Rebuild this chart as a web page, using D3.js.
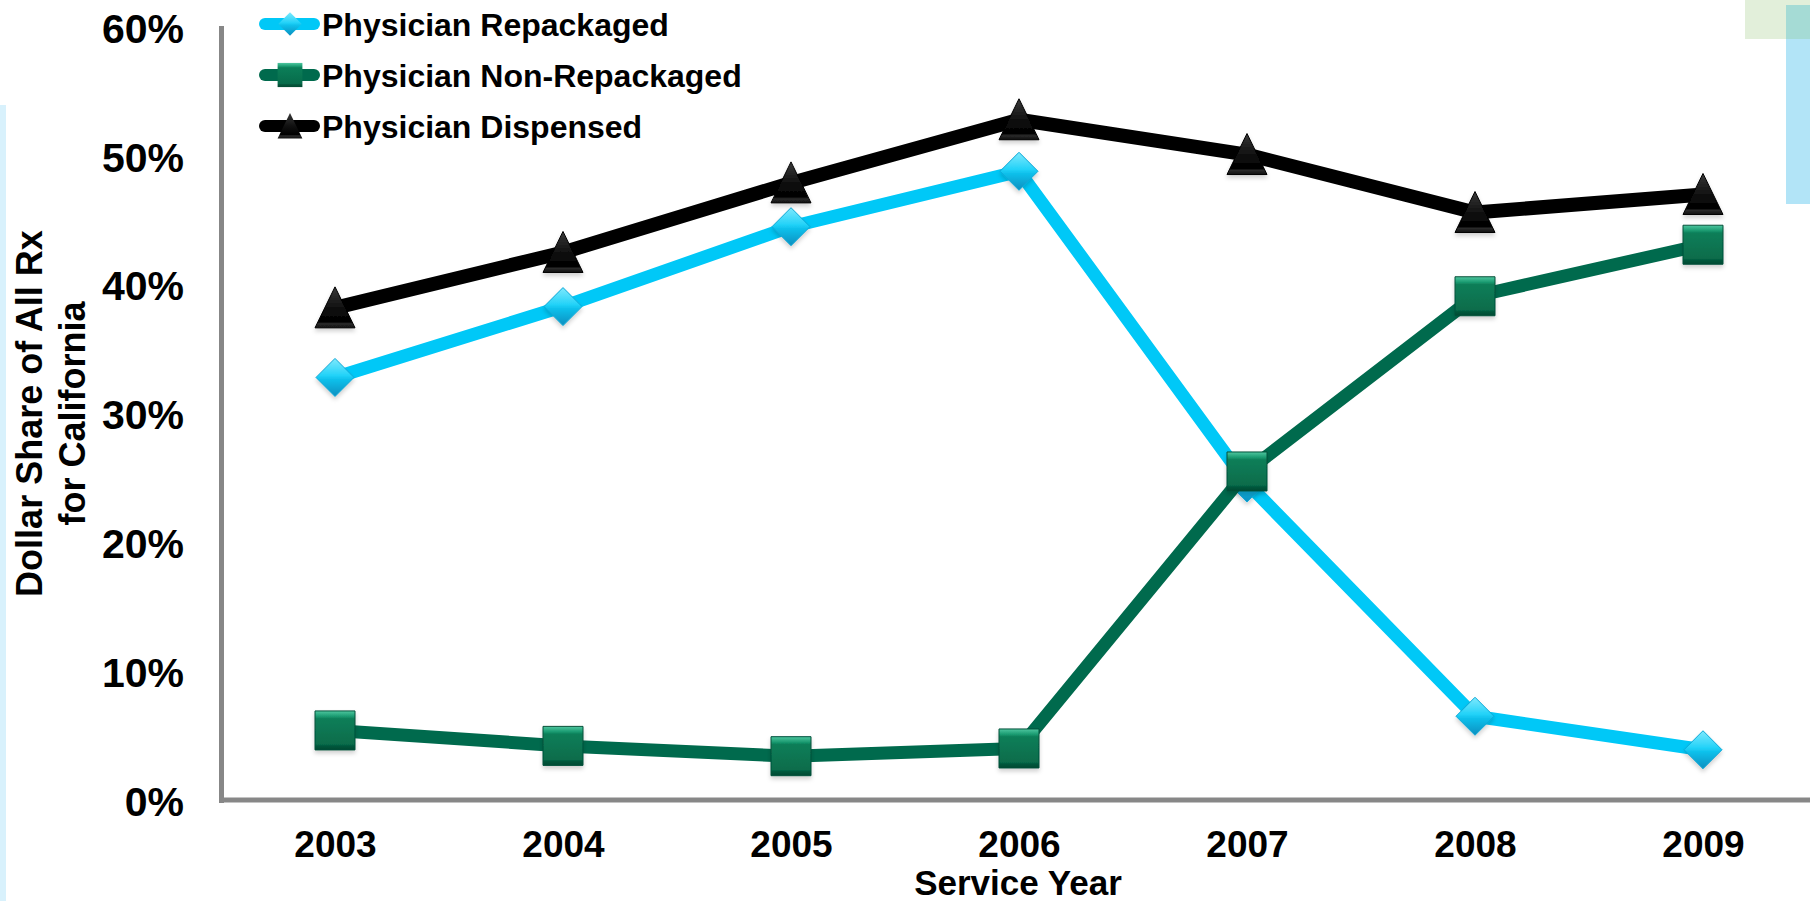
<!DOCTYPE html>
<html lang="en">
	<head>
		<meta charset="utf-8">
		<title>Dollar Share of All Rx for California</title>
		<script type="text/javascript" src="https://cdn.jsdelivr.net/npm/d3@7"></script>
		<style type="text/css">
			body {
				margin: 0px;
				background: #ffffff;
			}
			text {
				font-family: "Liberation Sans", Arial, Helvetica, sans-serif;
				font-weight: bold;
				fill: #000000;
			}
		</style>
	</head>
	<body>
		<div id="chart"></div>
		<script type="text/javascript">
		//Data
			var years = ["2003", "2004", "2005", "2006", "2007", "2008", "2009"];
			var repackaged = [32.8, 38.3, 44.5, 48.8, 24.6, 6.5, 3.9];
			var nonRepackaged = [5.4, 4.2, 3.4, 4.0, 25.5, 39.1, 43.1];
			var dispensed = [38.2, 42.5, 47.9, 52.8, 50.1, 45.6, 47.0];
			var yTicks = [0, 10, 20, 30, 40, 50, 60];
			var seriesNames = ["Physician Repackaged", "Physician Non-Repackaged", "Physician Dispensed"];
			var seriesColors = ["#00c8f7", "#006a4d", "#000000"];
			var seriesShapes = ["diamond", "square", "triangle"];

		//Overall setup
			var w = 1810;
			var h = 901;
			var axisColor = "#878787";

			var svg = d3.select("#chart")
				.append("svg")
				.attr("width", w)
				.attr("height", h);

			var defs = svg.append("defs");

			//soft shadow under markers
			var shadow = defs.append("filter")
				.attr("id", "shadow")
				.attr("x", "-50%").attr("y", "-50%")
				.attr("width", "200%").attr("height", "200%");
			shadow.append("feDropShadow")
				.attr("dx", 0).attr("dy", 3)
				.attr("stdDeviation", 2)
				.attr("flood-color", "#000")
				.attr("flood-opacity", 0.18);

			//gradients for the bevelled markers
			function addGradient(id, stops) {
				var g = defs.append("linearGradient")
					.attr("id", id)
					.attr("x1", 0).attr("y1", 0)
					.attr("x2", 0).attr("y2", 1);
				stops.forEach(function(s) {
					g.append("stop").attr("offset", s[0]).attr("stop-color", s[1]);
				});
			}
			addGradient("g-diamond", [[0, "#7fe9fd"], [0.45, "#22d2f8"], [0.55, "#0fc1ec"], [1, "#0a8fbf"]]);
			addGradient("g-square", [[0, "#4fc7a0"], [0.14, "#1a9a70"], [0.2, "#0b7e58"], [0.85, "#076c4b"], [0.9, "#04563b"], [1, "#034a33"]]);
			addGradient("g-triangle", [[0, "#3a3a3a"], [0.5, "#111111"], [0.85, "#000000"], [0.9, "#2a2a2a"], [1, "#111111"]]);

			//decorations at the edges
			svg.append("rect")
				.attr("x", 0).attr("y", 105)
				.attr("width", 6).attr("height", h - 105)
				.attr("fill", "#d8f1fc");
			svg.append("rect")
				.attr("x", 1745).attr("y", 0)
				.attr("width", 65).attr("height", 39)
				.attr("fill", "#e2efda");
			svg.append("rect")
				.attr("x", 1786).attr("y", 5)
				.attr("width", 24).attr("height", 199)
				.attr("fill", "#b2e4f7");
			svg.append("rect")
				.attr("x", 1786).attr("y", 5)
				.attr("width", 24).attr("height", 34)
				.attr("fill", "#a5dbd5");

		//Scales
			var x = d3.scalePoint()
				.domain(years)
				.range([221, 1817])
				.padding(0.5);

			var y = d3.scaleLinear()
				.domain([0, 60])
				.range([800, 27]);

		//Axes
			var yAxisCall = d3.axisLeft(y)
				.tickValues(yTicks)
				.tickSize(0)
				.tickPadding(37)
				.tickFormat(function(d) { return d + "%"; });

			var yAxis = svg.append("g")
				.attr("class", "y-axis")
				.attr("transform", "translate(221, 0)")
				.call(yAxisCall);
			yAxis.select(".domain").remove();
			yAxis.selectAll("text")
				.attr("dy", "0.37em")
				.style("font-size", "41px");

			var xAxisCall = d3.axisBottom(x)
				.tickSize(0)
				.tickPadding(31);

			var xAxis = svg.append("g")
				.attr("class", "x-axis")
				.attr("transform", "translate(0, 800)")
				.call(xAxisCall);
			xAxis.select(".domain").remove();
			xAxis.selectAll("text")
				.style("font-size", "37px");

			//axis lines
			svg.append("line")
				.attr("x1", 221.5).attr("x2", 221.5)
				.attr("y1", y(60) - 1).attr("y2", y(0) + 3)
				.attr("stroke", axisColor)
				.attr("stroke-width", 5);
			svg.append("line")
				.attr("x1", 219).attr("x2", w)
				.attr("y1", y(0)).attr("y2", y(0))
				.attr("stroke", axisColor)
				.attr("stroke-width", 5);

			//axis titles
			svg.append("text")
				.attr("transform", "translate(42, " + ((y(0) + y(60)) / 2) + ") rotate(-90)")
				.attr("text-anchor", "middle")
				.style("font-size", "36px")
				.text("Dollar Share of All Rx");
			svg.append("text")
				.attr("transform", "translate(85, " + ((y(0) + y(60)) / 2) + ") rotate(-90)")
				.attr("text-anchor", "middle")
				.style("font-size", "36px")
				.text("for California");
			svg.append("text")
				.attr("x", 1018)
				.attr("y", 895)
				.attr("text-anchor", "middle")
				.style("font-size", "35px")
				.text("Service Year");

		//Marker shapes
			function markerPath(shape, k) {
				if (shape == "diamond") {
					return "M0," + (-19 * k) + "L" + (19 * k) + ",0L0," + (19 * k) + "L" + (-19 * k) + ",0Z";
				} else if (shape == "square") {
					return "M" + (-20 * k) + "," + (-19.5 * k) + "h" + (40 * k) + "v" + (39 * k) + "h" + (-40 * k) + "Z";
				} else {
					return "M0," + (-21 * k) + "L" + (20 * k) + "," + (20 * k) + "L" + (-20 * k) + "," + (20 * k) + "Z";
				}
			}

		//Series
			var series = [repackaged, nonRepackaged, dispensed];

			var line = d3.line()
				.x(function(d, i) { return x(years[i]); })
				.y(function(d) { return y(d); });

			series.forEach(function(values, s) {
				var g = svg.append("g").attr("class", "series");

				g.append("path")
					.datum(values)
					.attr("d", line)
					.attr("fill", "none")
					.attr("stroke", seriesColors[s])
					.attr("stroke-width", s == 2 ? 14 : 13)
					.attr("stroke-linejoin", "round");

				g.selectAll(".marker")
					.data(values)
					.enter()
					.append("path")
					.attr("class", "marker")
					.attr("transform", function(d, i) {
						return "translate(" + x(years[i]) + ", " + y(d) + ")";
					})
					.attr("d", markerPath(seriesShapes[s], 1))
					.attr("fill", "url(#g-" + seriesShapes[s] + ")")
					.attr("stroke", s == 0 ? "#0aa7d6" : (s == 1 ? "#04503a" : "#000"))
					.attr("stroke-width", 1)
					.attr("filter", "url(#shadow)")
					.append("title")
					.text(function(d) { return d + "%"; });
			});

		//Legend
			var legend = svg.append("g")
				.attr("class", "legend");

			var rows = legend.selectAll("g")
				.data(seriesNames)
				.enter()
				.append("g")
				.attr("transform", function(d, i) {
					return "translate(0, " + (24 + i * 51) + ")";
				});

			rows.append("line")
				.attr("x1", 265).attr("x2", 314)
				.attr("y1", 0).attr("y2", 0)
				.attr("stroke", function(d, i) { return seriesColors[i]; })
				.attr("stroke-width", 12)
				.attr("stroke-linecap", "round");

			rows.append("path")
				.attr("transform", "translate(290, 0)")
				.attr("d", function(d, i) { return markerPath(seriesShapes[i], 0.62); })
				.attr("fill", function(d, i) { return "url(#g-" + seriesShapes[i] + ")"; });

			rows.append("text")
				.attr("x", 322)
				.attr("y", 0)
				.attr("dy", "0.36em")
				.style("font-size", "32px")
				.text(function(d) { return d; });
		</script>
	</body>
</html>
